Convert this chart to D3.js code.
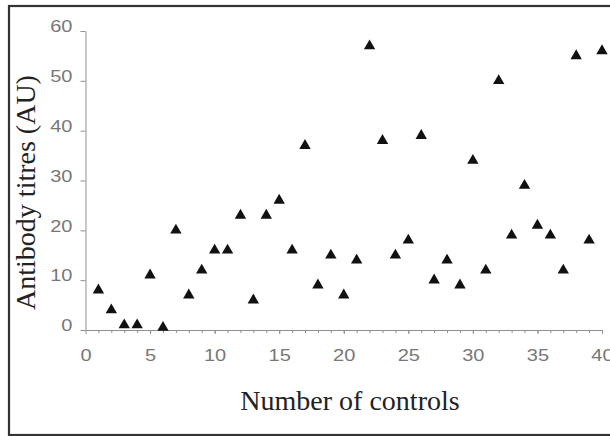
<!DOCTYPE html>
<html lang="en">
<head>
<meta charset="utf-8">
<title>Antibody titres</title>
<script src="https://d3js.org/d3.v7.min.js"></script>
<style>
  body { margin: 0; background: #fff; }
  .axis path, .axis line { stroke: #8f8f8f; }
  .axis text { fill: #777; font-family: "Liberation Sans", Arial, sans-serif; font-size: 16px; }
</style>
</head>
<body>
<svg width="610" height="436"></svg>
<script>
    const controls = [1, 2, 3, 4, 5, 6, 7, 8, 9, 10,
        11, 12, 13, 14, 15, 16, 17, 18, 19, 20,
        21, 22, 23, 24, 25, 26, 27, 28, 29, 30,
        31, 32, 33, 34, 35, 36, 37, 38, 39, 40];
    const titres = [8, 4, 1, 1, 11, 0.5, 20, 7, 12, 16,
        16, 23, 6, 23, 26, 16, 37, 9, 15, 7,
        14, 57, 38, 15, 18, 39, 10, 14, 9, 34,
        12, 50, 19, 29, 21, 19, 12, 55, 18, 56];
    const xTicks = [0, 5, 10, 15, 20, 25, 30, 35, 40];
    const yTicks = [0, 10, 20, 30, 40, 50, 60];

    let svg = d3.select("svg");

    // frame round the whole figure
    svg.append("rect")
        .attr("x", 9).attr("y", 6)
        .attr("width", 610).attr("height", 429)
        .attr("fill", "none")
        .attr("stroke", "#333")
        .attr("stroke-width", 2.2);

    let xScale = d3.scaleLinear().domain([0, 40]).range([85.5, 602]);
    let yScale = d3.scaleLinear().domain([0, 60]).range([330, 31]);

    // minor ticks, one per control
    svg.append("g")
        .attr("class", "axis")
        .attr("transform", "translate(0,330)")
        .call(d3.axisBottom(xScale).tickValues(controls).tickSize(3).tickFormat(""))
        .call(g => g.select(".domain").remove());

    svg.append("g")
        .attr("class", "axis")
        .attr("transform", "translate(0,330)")
        .call(d3.axisBottom(xScale).tickValues(xTicks).tickSize(4).tickSizeOuter(0).tickPadding(16))
        .selectAll("text")
        .attr("transform", "scale(1.25,1)");

    svg.append("g")
        .attr("class", "axis")
        .attr("transform", "translate(85.5,0)")
        .call(d3.axisLeft(yScale).tickValues(yTicks).tickSize(5).tickSizeOuter(0))
        .selectAll("text")
        .attr("x", -10.5)
        .attr("dy", "0.05em")
        .attr("transform", "scale(1.25,1)");

    svg.append("g")
        .selectAll("path")
        .data(controls)
        .join("path")
        .attr("transform", (d, i) => "translate(" + xScale(d) + "," + yScale(titres[i]) + ")")
        .attr("d", d3.symbol().type(d3.symbolTriangle).size(56))
        .attr("fill", "#111");

    svg.append("text")
        .attr("x", 350).attr("y", 410)
        .attr("text-anchor", "middle")
        .attr("font-family", "'Liberation Serif', 'Times New Roman', serif")
        .attr("font-size", 28)
        .attr("fill", "#222")
        .text("Number of controls");

    svg.append("text")
        .attr("transform", "translate(35,192.5) rotate(-90)")
        .attr("text-anchor", "middle")
        .attr("font-family", "'Liberation Serif', 'Times New Roman', serif")
        .attr("font-size", 28)
        .attr("fill", "#222")
        .text("Antibody titres (AU)");
</script>
</body>
</html>
